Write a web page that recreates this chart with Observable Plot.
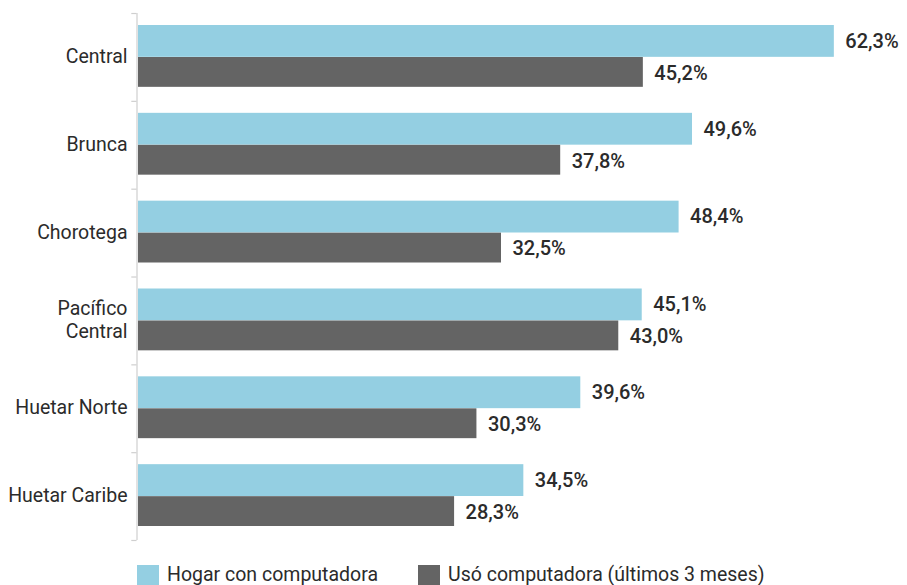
<!DOCTYPE html>
<html>
<head>
<meta charset="utf-8">
<script src="https://cdn.jsdelivr.net/npm/d3@7"></script>
<script src="https://cdn.jsdelivr.net/npm/@observablehq/plot@0.6"></script>
<style>
  html, body { margin: 0; padding: 0; background: #fff; }
  body { width: 907px; height: 585px; overflow: hidden; font-family: Roboto, "Noto Sans", sans-serif; }
  #legend { position: absolute; left: 137px; top: 565px; display: flex; align-items: center; font-size: 19.5px; color: #2b2b2b; line-height: 20px; }
  .item { display: flex; align-items: center; }
  .sw { width: 22px; height: 20px; margin-right: 8px; }
</style>
</head>
<body>
<div id="chart"></div>
<div id="legend"></div>
<script>
const regions = ["Central", "Brunca", "Chorotega", "Pacífico Central", "Huetar Norte", "Huetar Caribe"];
const regionLabels = ["Central", "Brunca", "Chorotega", "Pacífico\nCentral", "Huetar Norte", "Huetar Caribe"];
const hogarConComputadora = [62.3, 49.6, 48.4, 45.1, 39.6, 34.5];
const usoComputadora = [45.2, 37.8, 32.5, 43.0, 30.3, 28.3];
const seriesNames = ["Hogar con computadora", "Usó computadora (últimos 3 meses)"];
const seriesColors = ["#94cfe2", "#646464"];

const hogar = regions.map((r, i) => ({region: r, value: hogarConComputadora[i]}));
const uso = regions.map((r, i) => ({region: r, value: usoComputadora[i]}));
const fmt = v => v.toFixed(1).replace(".", ",") + "%";
const labelRows = regions.map((r, i) => ({region: r, label: regionLabels[i]}));

const chart = Plot.plot({
  width: 907,
  height: 550,
  marginTop: 13,
  marginBottom: 10,
  marginLeft: 138,
  marginRight: 0,
  style: {fontFamily: "Roboto, 'Noto Sans', sans-serif", background: "#fff", color: "#2b2b2b", overflow: "visible"},
  x: {domain: [0, 68.85], axis: null},
  y: {domain: regions, padding: 0, round: false, axis: null},
  marks: [
    Plot.barX(hogar, {y: "region", x: "value", fill: seriesColors[0], insetTop: 12, insetBottom: 44}),
    Plot.barX(uso, {y: "region", x: "value", fill: seriesColors[1], insetTop: 44, insetBottom: 14}),
    Plot.ruleX([0], {stroke: "#cfcfcf", strokeWidth: 1.2, dx: -1.5}),
    Plot.ruleY(regions, {y: d => d, x1: -0.6, x2: -0.13, stroke: "#cfcfcf", strokeWidth: 1.2, dy: -43.9}),
    Plot.ruleY([regions[regions.length - 1]], {y: d => d, x1: -0.6, x2: -0.13, stroke: "#cfcfcf", strokeWidth: 1.2, dy: 43.9}),
    Plot.text(hogar, {y: "region", x: "value", text: d => fmt(d.value), dx: 11, dy: -16, textAnchor: "start", fontSize: 20, fontWeight: 500, fill: "#2b2b2b"}),
    Plot.text(uso, {y: "region", x: "value", text: d => fmt(d.value), dx: 11, dy: 16, textAnchor: "start", fontSize: 20, fontWeight: 500, fill: "#2b2b2b"}),
    Plot.text(labelRows, {y: "region", x: 0, text: "label", dx: -11, dy: -1.5, textAnchor: "end", fontSize: 19.5, lineHeight: 1.15, fill: "#2b2b2b"})
  ]
});
document.getElementById("chart").append(chart);

const legend = document.getElementById("legend");
seriesNames.forEach((name, i) => {
  const item = document.createElement("div");
  item.className = "item";
  if (i > 0) item.style.marginLeft = "40px";
  const sw = document.createElement("div");
  sw.className = "sw";
  sw.style.background = seriesColors[i];
  const t = document.createElement("span");
  t.textContent = name;
  item.append(sw, t);
  legend.append(item);
});
</script>
</body>
</html>
